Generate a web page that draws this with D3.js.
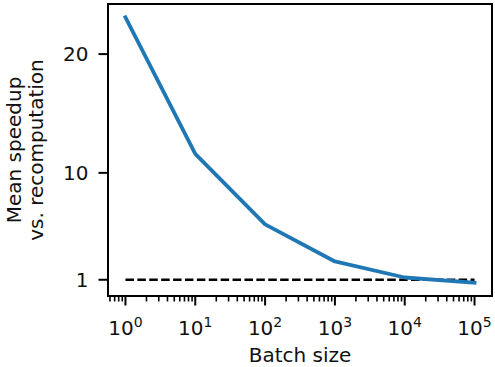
<!DOCTYPE html>
<html lang="en">
<head>
<meta charset="UTF-8">
<title>Mean speedup vs. batch size</title>
<script src="https://d3js.org/d3.v7.min.js"></script>
<style>
  body {
    margin: 0;
    background: #fff;
  }
  svg text {
    font-family: "DejaVu Sans", sans-serif;
    fill: #111;
  }
</style>
</head>
<body>
<svg id="chart" width="495" height="367"></svg>
<script>
// values
const batchSizes = [1, 10, 100, 1000, 10000, 100000];
const speedups = [23.1, 11.6, 5.66, 2.54, 1.19, 0.75];
const baseline = 1; // speedup of 1 = same as recomputation
const yTicks = [1, 10, 20];
const xTicks = [1, 10, 100, 1000, 10000, 100000];

const svg = d3.select('#chart');
const plotLeft = 108, plotRight = 492, plotTop = 4, plotBottom = 296;
const fontSize = 20;

// matplotlib-like 5% margins
const lx0 = Math.log10(d3.min(batchSizes)), lx1 = Math.log10(d3.max(batchSizes));
const xPad = (lx1 - lx0) * 0.05;
const x = d3.scaleLog()
  .domain([Math.pow(10, lx0 - xPad), Math.pow(10, lx1 + xPad)])
  .range([plotLeft, plotRight]);

const yMin = Math.min(d3.min(speedups), baseline), yMax = d3.max(speedups);
const yPad = (yMax - yMin) * 0.05;
const y = d3.scaleLinear()
  .domain([yMin - yPad, yMax + yPad])
  .range([plotBottom, plotTop]);

// minor ticks on the log axis
const minorTicks = [];
const [d0, d1] = x.domain();
for (let e = Math.floor(Math.log10(d0)); e <= Math.ceil(Math.log10(d1)); e++) {
  for (let m = 2; m <= 9; m++) {
    const v = m * Math.pow(10, e);
    if (v >= d0 && v <= d1) minorTicks.push(v);
  }
}

svg.append('g')
  .selectAll('line')
  .data(minorTicks)
  .join('line')
  .attr('x1', d => x(d)).attr('x2', d => x(d))
  .attr('y1', plotBottom).attr('y2', plotBottom + 5.5)
  .attr('stroke', '#000').attr('stroke-width', 1.6);

svg.append('g')
  .selectAll('line')
  .data(xTicks)
  .join('line')
  .attr('x1', d => x(d)).attr('x2', d => x(d))
  .attr('y1', plotBottom).attr('y2', plotBottom + 9.5)
  .attr('stroke', '#000').attr('stroke-width', 2);

// x tick labels like 10^k
const xl = svg.append('g')
  .selectAll('text')
  .data(xTicks)
  .join('text')
  .attr('x', d => x(d))
  .attr('y', plotBottom + 39)
  .attr('text-anchor', 'middle')
  .style('font-size', fontSize + 'px');
xl.append('tspan').text('10');
xl.append('tspan')
  .attr('dy', -8)
  .style('font-size', (fontSize * 0.7) + 'px')
  .text(d => Math.round(Math.log10(d)));

// y ticks
svg.append('g')
  .selectAll('line')
  .data(yTicks)
  .join('line')
  .attr('x1', plotLeft - 9.5).attr('x2', plotLeft)
  .attr('y1', d => y(d)).attr('y2', d => y(d))
  .attr('stroke', '#000').attr('stroke-width', 2);

svg.append('g')
  .selectAll('text')
  .data(yTicks)
  .join('text')
  .attr('x', plotLeft - 19.5)
  .attr('y', d => y(d))
  .attr('dy', '0.36em')
  .attr('text-anchor', 'end')
  .style('font-size', fontSize + 'px')
  .text(d => d);

// dashed reference line at speedup = 1
svg.append('line')
  .attr('x1', x(d3.min(batchSizes))).attr('x2', x(d3.max(batchSizes)))
  .attr('y1', y(baseline)).attr('y2', y(baseline))
  .attr('stroke', '#000')
  .attr('stroke-width', 2.5)
  .attr('stroke-dasharray', '8.5,3.4');

// main series
const line = d3.line()
  .x((d, i) => x(batchSizes[i]))
  .y(d => y(d));

svg.append('path')
  .datum(speedups)
  .attr('d', line)
  .attr('fill', 'none')
  .attr('stroke', '#1f77b4')
  .attr('stroke-width', 3.8)
  .attr('stroke-linejoin', 'round')
  .attr('stroke-linecap', 'square');

// frame
svg.append('rect')
  .attr('x', plotLeft).attr('y', plotTop)
  .attr('width', plotRight - plotLeft).attr('height', plotBottom - plotTop)
  .attr('fill', 'none')
  .attr('stroke', '#000')
  .attr('stroke-width', 2);

// axis labels
svg.append('text')
  .attr('x', (plotLeft + plotRight) / 2)
  .attr('y', 362)
  .attr('text-anchor', 'middle')
  .style('font-size', fontSize + 'px')
  .text('Batch size');

const yl = svg.append('text')
  .attr('transform', `translate(0,${(plotTop + plotBottom) / 2}) rotate(-90)`)
  .attr('text-anchor', 'middle')
  .style('font-size', fontSize + 'px');
yl.append('tspan').attr('x', 0).attr('y', 21).text('Mean speedup');
yl.append('tspan').attr('x', 0).attr('y', 43).text('vs. recomputation');
</script>
</body>
</html>
